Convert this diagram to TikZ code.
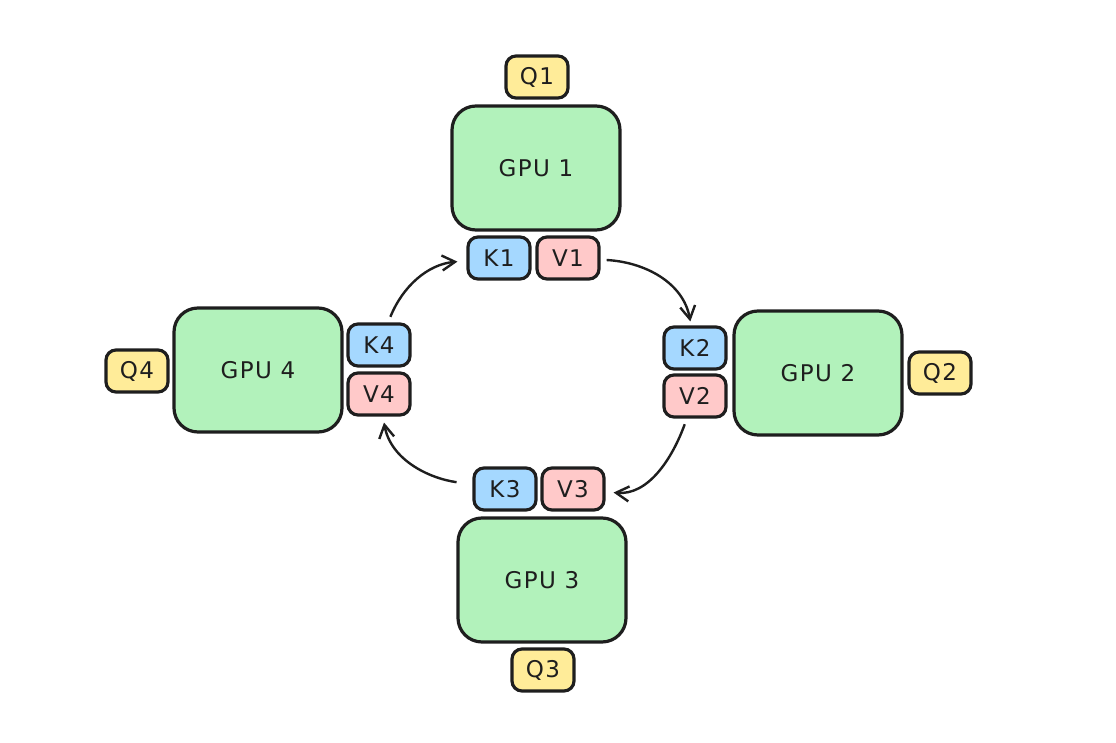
\documentclass[tikz,border=0pt]{standalone}
\usepackage{fontspec}
\setmainfont{DejaVu Sans}[LetterSpace=6]
\usetikzlibrary{arrows.meta}

\definecolor{ink}{HTML}{1E1E1E}
\definecolor{gpugreen}{HTML}{B2F2BB}
\definecolor{keyblue}{HTML}{A5D8FF}
\definecolor{valred}{HTML}{FFC9C9}
\definecolor{queryyellow}{HTML}{FFEC99}

\begin{document}
\begin{tikzpicture}[x=1pt,y=1pt,
  every node/.style={align=center, text=ink, font=\fontsize{23}{26}\selectfont},
  gpu/.style={draw=ink, line width=3.2pt, rounded corners=24pt, fill=gpugreen,
    minimum width=168pt, minimum height=124pt, inner sep=0pt},
  cell/.style={draw=ink, line width=3.2pt, rounded corners=10pt,
    minimum width=62pt, minimum height=42pt, inner sep=0pt},
  key/.style={cell, fill=keyblue},
  val/.style={cell, fill=valred},
  query/.style={cell, fill=queryyellow},
  flow/.style={draw=ink, line width=2.4pt, -{Straight Barb[length=13pt,width=15pt]}}]

\useasboundingbox (0,0) rectangle (1116,742);

% GPU 1 (top)
\node[gpu] (gpu1) at (536,574) {GPU 1};
\node[query] (q1) at (537,665) {Q1};
\node[key] (k1) at (499,484) {K1};
\node[val] (v1) at (568,484) {V1};

% GPU 2 (right)
\node[gpu] (gpu2) at (818,369) {GPU 2};
\node[query] (q2) at (940,369) {Q2};
\node[key] (k2) at (695,394) {K2};
\node[val] (v2) at (695,346) {V2};

% GPU 3 (bottom)
\node[gpu] (gpu3) at (542,162) {GPU 3};
\node[query] (q3) at (543,72) {Q3};
\node[key] (k3) at (505,253) {K3};
\node[val] (v3) at (573,253) {V3};

% GPU 4 (left)
\node[gpu] (gpu4) at (258,372) {GPU 4};
\node[query] (q4) at (137,371) {Q4};
\node[key] (k4) at (379,397) {K4};
\node[val] (v4) at (379,348) {V4};

% Ring passing of the keys and values
\draw[flow, shorten <=6pt, shorten >=4pt] (v1) to[out=-3, in=100] (k2);
\draw[flow, shorten <=6pt, shorten >=8pt] (v2) to[out=-110, in=-5] (v3);
\draw[flow, shorten <=16pt, shorten >=6pt] (k3) to[out=172, in=-80] (v4);
\draw[flow, shorten <=6pt, shorten >=9pt] (k4) to[out=68, in=185] (k1);

\end{tikzpicture}
\end{document}
